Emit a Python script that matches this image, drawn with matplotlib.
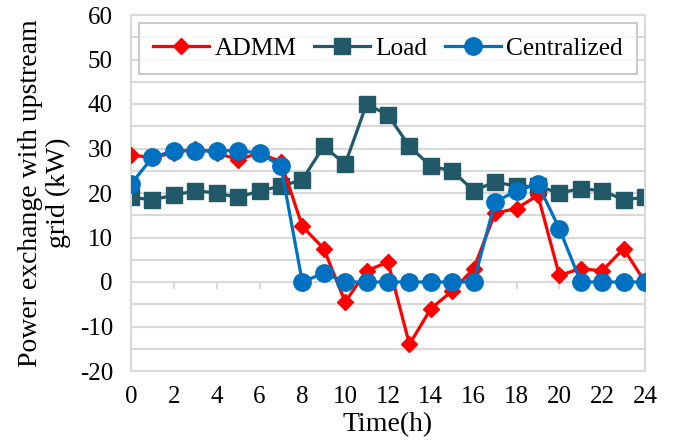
import numpy as np
import matplotlib.pyplot as plt

plt.rcParams['font.family'] = ['Liberation Serif', 'DejaVu Serif']
plt.rcParams['axes.unicode_minus'] = False

hours = list(range(25))
admm = [28.5, 28, 29, 30, 29, 27.5, 29, 27, 12.5, 7.5, -4.5, 2.5, 4.5, -14, -6, -2,
        3, 15.5, 16.5, 19.5, 1.5, 3, 2.5, 7.5, 0]
load = [19, 18.5, 19.5, 20.5, 20, 19, 20.5, 21.5, 23, 30.5, 26.5, 40, 37.5, 30.5, 26, 25,
        20.5, 22.5, 21.5, 21.5, 20, 21, 20.5, 18.5, 19]
central = [22, 28, 29.5, 29.5, 29.5, 29.5, 29, 26, 0, 2, 0, 0, 0, 0, 0, 0,
           0, 18, 20.5, 22, 12, 0, 0, 0, 0]
xticks = list(range(0, 25, 2))
yticks = list(range(-20, 61, 10))

fig = plt.figure(figsize=(6.79, 4.47), dpi=100)
ax = fig.add_axes([131/679, 1-371/447, (645-131)/679, (371-15)/447])

ax.plot(hours, admm, color='#FF0000', marker='D', markersize=8.5, linewidth=2.3, label='ADMM', zorder=3)
ax.plot(hours, load, color='#215968', marker='s', markersize=11, linewidth=2.3, label='Load', zorder=2)
ax.plot(hours, central, color='#0070C0', marker='o', markersize=12.5, linewidth=2.3, label='Centralized', zorder=4)

ax.set_xlim(0, 24)
ax.set_ylim(-20, 60)
ax.set_xticks(xticks)
ax.set_yticks(yticks)
ax.set_yticks(range(-15, 60, 10), minor=True)
ax.grid(True, which='both', axis='y', color='#D9D9D9', linewidth=1.5, zorder=0)
ax.set_axisbelow(True)
ax.tick_params(axis='both', which='both', length=0, labelsize=18, pad=13)
ax.tick_params(axis='x', pad=11)
for s in ax.spines.values():
    s.set_color('#D9D9D9')
    s.set_linewidth(1.5)

# tick marks on the zero line
sec = ax.secondary_xaxis(0.25)
sec.set_xticks(xticks)
sec.tick_params(length=5, width=1.5, color='#D9D9D9', labelbottom=False)
sec.spines['bottom'].set_visible(False)

ax.set_xlabel('Time(h)', fontsize=20, labelpad=3)
ax.set_ylabel('Power exchange with upstream\ngrid (kW)', fontsize=20, labelpad=6,
              linespacing=1.15)

leg = ax.legend(loc='upper center', ncol=3, fontsize=18.3, frameon=True, fancybox=False,
                edgecolor='#BFBFBF', borderpad=0.55, handlelength=2.2, columnspacing=0.7,
                handletextpad=0.2, borderaxespad=0, bbox_to_anchor=(0.5, 0.978))
leg.get_frame().set_linewidth(1.5)

fig.savefig('out.png', dpi=100)
